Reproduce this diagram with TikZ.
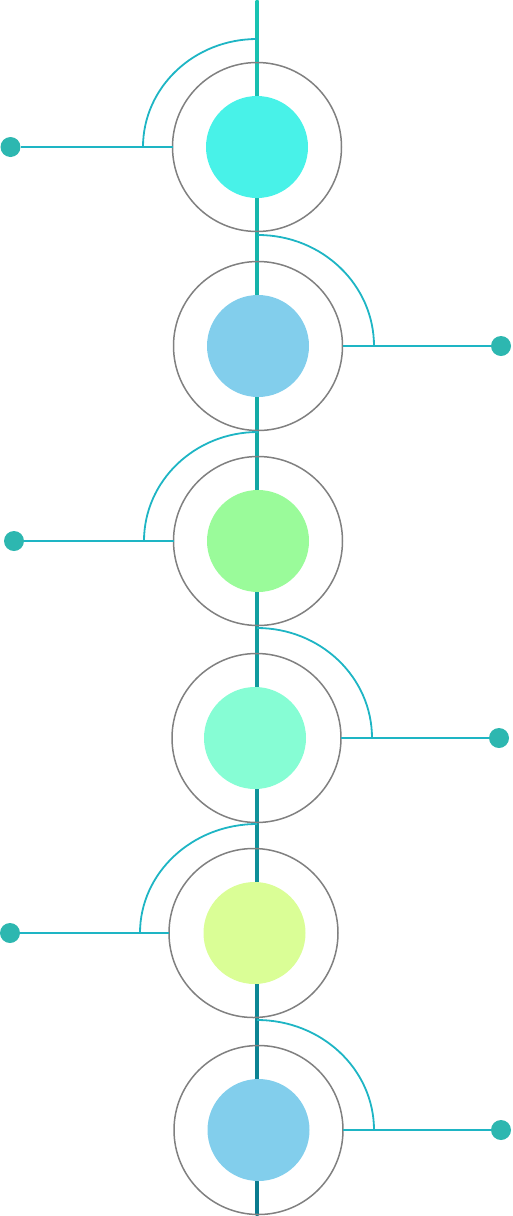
\documentclass[tikz,border=0pt]{standalone}
\usepackage{tikz}
\usetikzlibrary{positioning}
\definecolor{ringgray}{RGB}{128,128,128}
\definecolor{branchcol}{RGB}{30,181,196}
\definecolor{dotcol}{RGB}{45,183,176}
\definecolor{spinetop}{RGB}{24,196,178}
\definecolor{spinebot}{RGB}{10,122,142}
\definecolor{fillA}{RGB}{72,242,232}
\definecolor{fillB}{RGB}{130,206,236}
\definecolor{fillC}{RGB}{154,251,154}
\definecolor{fillD}{RGB}{134,253,212}
\definecolor{fillE}{RGB}{218,254,150}

\begin{document}
\begin{tikzpicture}[x=1pt,y=1pt,
    ring/.style={draw=ringgray, line width=1.5pt, circle,
        minimum size=169pt, inner sep=0pt, outer sep=0pt},
    core/.style={circle, minimum size=102pt, inner sep=0pt},
    dot/.style={circle, fill=dotcol, minimum size=20pt, inner sep=0pt, outer sep=0pt},
    branch/.style={draw=branchcol, line width=1.8pt}
]
    \useasboundingbox (0,0) rectangle (512,-1216);

    % Spine
    \coordinate (SpineTop) at (257,0);
    \coordinate (SpineBot) at (257,-1216);
    \shade[top color=spinetop, bottom color=spinebot]
        ([xshift=-1.5pt]SpineTop) rectangle ([xshift=1.5pt]SpineBot);

    % Rings
    \node [ring] (Stage1) at (257,-147) {};
    \node [ring,
        below=30pt of Stage1, xshift=1pt
    ]  (Stage2) {};
    \node [ring,
        below=26pt of Stage2
    ]  (Stage3) {};
    \node [ring,
        below=28pt of Stage3, xshift=-1.5pt
    ]  (Stage4) {};
    \node [ring,
        below=26pt of Stage4, xshift=-3pt
    ]  (Stage5) {};
    \node [ring,
        below=28pt of Stage5, xshift=5pt
    ]  (Stage6) {};

    % Cores
    \node [core, fill=fillA] (Core1) at (Stage1.center) {};
    \node [core, fill=fillB] (Core2) at (Stage2.center) {};
    \node [core, fill=fillC] (Core3) at (Stage3.center) {};
    \node [core, fill=fillD] (Core4) at ([xshift=-1.5pt]Stage4.center) {};
    \node [core, fill=fillE] (Core5) at ([xshift=1pt]Stage5.center) {};
    \node [core, fill=fillB] (Core6) at (Stage6.center) {};

    % Dots
    \node [dot, left=152pt of Stage1]   (Dot1) {};
    \node [dot, right=148.5pt of Stage2] (Dot2) {};
    \node [dot, left=149.5pt of Stage3] (Dot3) {};
    \node [dot, right=148pt of Stage4]  (Dot4) {};
    \node [dot, left=149pt of Stage5]   (Dot5) {};
    \node [dot, right=148pt of Stage6]  (Dot6) {};

    % Branches
    \draw[branch] (Stage1.west) -- (Dot1);
    \draw[branch] (Stage2.east) -- (Dot2);
    \draw[branch] (Stage3.west) -- (Dot3);
    \draw[branch] (Stage4.east) -- (Dot4);
    \draw[branch] (Stage5.west) -- (Dot5);
    \draw[branch] (Stage6.east) -- (Dot6);

    % Arcs
    \draw[branch] ([xshift=-29.5pt]Stage1.west)
        arc[start angle=180, end angle=90, x radius=114, y radius=108];
    \draw[branch] ([xshift=31.5pt]Stage2.east)
        arc[start angle=0, end angle=90, x radius=116, y radius=111];
    \draw[branch] ([xshift=-29.5pt]Stage3.west)
        arc[start angle=180, end angle=90, x radius=114, y radius=109];
    \draw[branch] ([xshift=31pt]Stage4.east)
        arc[start angle=0, end angle=90, x radius=115, y radius=110];
    \draw[branch] ([xshift=-29pt]Stage5.west)
        arc[start angle=180, end angle=90, x radius=117, y radius=109];
    \draw[branch] ([xshift=31pt]Stage6.east)
        arc[start angle=0, end angle=90, x radius=117, y radius=110];

\end{tikzpicture}
\end{document}
